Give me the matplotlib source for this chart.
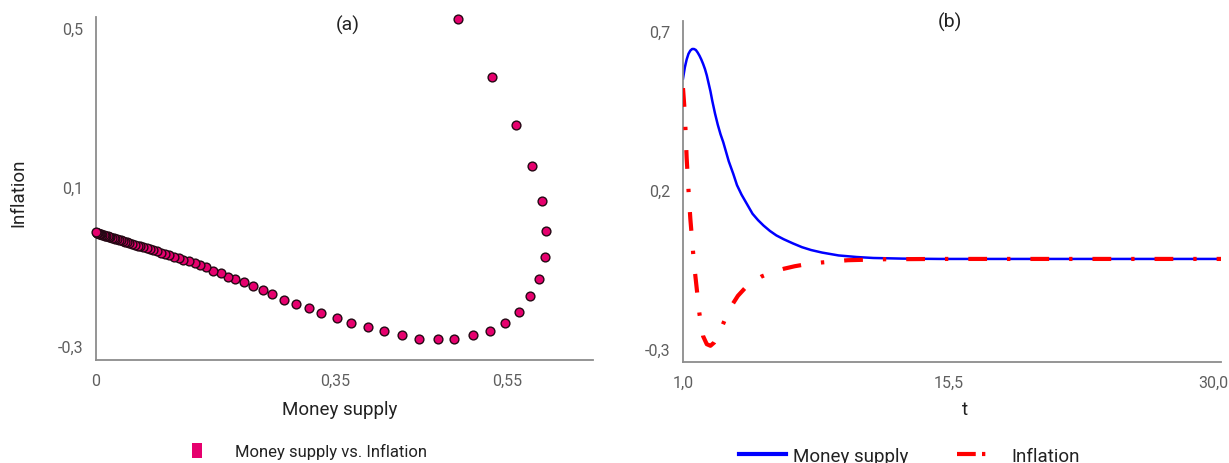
import matplotlib
matplotlib.use("Agg")
import matplotlib.pyplot as plt
from matplotlib.lines import Line2D
from matplotlib.patches import Patch

plt.rcParams["font.family"] = ["Roboto", "DejaVu Sans"]

# --- panel (a): money supply vs. inflation (phase plot) ---
money_a = [0.530, 0.580, 0.615, 0.638, 0.653, 0.659, 0.657, 0.649, 0.635, 0.619,
           0.599, 0.577, 0.552, 0.524, 0.501, 0.473, 0.448, 0.422, 0.398, 0.373,
           0.353, 0.329, 0.312, 0.293, 0.275, 0.258, 0.245, 0.230, 0.217, 0.204,
           0.193, 0.183, 0.171, 0.161, 0.152, 0.145, 0.136, 0.128, 0.121, 0.114,
           0.107, 0.101, 0.095, 0.089, 0.084, 0.079, 0.074, 0.069, 0.065, 0.061,
           0.057, 0.053, 0.049, 0.046, 0.043, 0.040, 0.037, 0.034, 0.031, 0.028,
           0.026, 0.023, 0.021, 0.019, 0.017, 0.015, 0.013, 0.011, 0.009, 0.007,
           0.006, 0.004, 0.003, 0.002, 0.001, 0.000]
infl_a = [0.523, 0.377, 0.256, 0.152, 0.064, -0.011, -0.077, -0.130, -0.175, -0.213,
          -0.241, -0.261, -0.273, -0.281, -0.283, -0.281, -0.273, -0.263, -0.253, -0.241,
          -0.230, -0.218, -0.205, -0.193, -0.183, -0.170, -0.160, -0.150, -0.140, -0.130,
          -0.125, -0.117, -0.110, -0.102, -0.097, -0.092, -0.087, -0.083, -0.079, -0.075,
          -0.071, -0.068, -0.065, -0.062, -0.059, -0.056, -0.054, -0.051, -0.049, -0.047,
          -0.045, -0.043, -0.041, -0.039, -0.037, -0.036, -0.034, -0.033, -0.031, -0.030,
          -0.029, -0.027, -0.026, -0.025, -0.024, -0.023, -0.022, -0.021, -0.020, -0.019,
          -0.018, -0.017, -0.016, -0.016, -0.015, -0.014]

# --- panel (b): time paths ---
t_money = [1.0, 1.1, 1.2, 1.3, 1.4, 1.5, 1.6, 1.7, 1.8, 1.9, 2.0, 2.1, 2.2, 2.3, 2.4,
           2.5, 2.6, 2.75, 2.9, 3.05, 3.2, 3.5, 3.75, 3.95, 4.2, 4.5, 4.8, 5.1, 5.4,
           5.75, 6.1, 6.5, 7.0, 7.5, 8.0, 8.6, 9.5, 10.5, 11.4, 13.0, 15.0, 20.0, 25.0, 30.4]
money_b = [0.55, 0.585, 0.61, 0.628, 0.638, 0.643, 0.643, 0.64, 0.632, 0.622, 0.61,
           0.596, 0.58, 0.56, 0.535, 0.51, 0.48, 0.44, 0.405, 0.375, 0.35, 0.29, 0.25,
           0.215, 0.185, 0.155, 0.125, 0.105, 0.088, 0.071, 0.057, 0.045, 0.032, 0.020,
           0.011, 0.003, -0.006, -0.011, -0.014, -0.016, -0.017, -0.017, -0.017, -0.017]
t_infl = [1.0, 1.1, 1.2, 1.3, 1.4, 1.5, 1.6, 1.75, 1.9, 2.1, 2.3, 2.5, 2.7, 2.9, 3.15,
          3.4, 3.7, 4.0, 4.4, 4.8, 5.3, 5.9, 6.5, 7.1, 7.8, 8.6, 10.0, 12.0, 15.0, 20.0,
          25.0, 30.4]
infl_b = [0.52, 0.44, 0.30, 0.20, 0.11, 0.04, -0.03, -0.11, -0.19, -0.26, -0.285, -0.29,
          -0.28, -0.26, -0.227, -0.193, -0.16, -0.133, -0.108, -0.09, -0.072, -0.058,
          -0.048, -0.04, -0.033, -0.028, -0.021, -0.018, -0.017, -0.017, -0.017, -0.017]

xticks_a = ["0", "0,35", "0,55"]
yticks_a = ["-0,3", "0,1", "0,5"]
xticks_b = ["1,0", "15,5", "30,0"]
yticks_b = ["-0,3", "0,2", "0,7"]

W, H = 1229, 464
fig = plt.figure(figsize=(W / 100, H / 100), dpi=100)

def px_axes(x0, y0, x1, y1):
    # axes rectangle from pixel corners (top-left origin)
    return fig.add_axes([x0 / W, 1 - y1 / H, (x1 - x0) / W, (y1 - y0) / H])

axis_grey = "#8c8c8c"
tick_grey = "#5f5f5f"
text_col = "#222222"

def style(ax):
    for s in ("top", "right"):
        ax.spines[s].set_visible(False)
    for s in ("left", "bottom"):
        ax.spines[s].set_color(axis_grey)
        ax.spines[s].set_linewidth(1.3)
    ax.tick_params(length=0, labelsize=11.5, labelcolor=tick_grey, pad=9)

# ---------- (a) ----------
axa = px_axes(96, 18, 593, 361)
style(axa)
axa.scatter(money_a, infl_a, s=40, color="#e6006e", edgecolors="#240814",
            linewidths=1.0, zorder=3, clip_on=False)
axa.set_xlim(0, 0.728)
axa.set_ylim(-0.335, 0.528)
axa.set_xticks([0, 0.35, 0.602], xticks_a)
axa.set_yticks([-0.3, 0.1, 0.5], yticks_a)

fig.text(348 / W, 1 - 25 / H, "(a)", ha="center", va="center", fontsize=14, color=text_col)
fig.text(340 / W, 1 - 410 / H, "Money supply", ha="center", va="center", fontsize=13.5,
         color=text_col)
fig.text(18 / W, 1 - 193 / H, "Inflation", ha="center", va="center", rotation=90,
         fontsize=13.5, color=text_col)

fig.legend(handles=[Patch(facecolor="#e6006e", edgecolor="none")],
           labels=["Money supply vs. Inflation"], loc="center left",
           bbox_to_anchor=(177 / W, 1 - 452 / H), frameon=False, fontsize=12,
           handlelength=0.6, handleheight=1.0, handletextpad=2.0,
           labelcolor=text_col)

# ---------- (b) ----------
axb = px_axes(683, 22, 1221, 363)
style(axb)
axb.plot(t_money, money_b, color="#0000ff", lw=1.8, zorder=2, label="Money supply")
axb.plot(t_infl, infl_b, color="#ff0000", lw=3, ls=(0, (4.5, 4.8, 0.8, 4.8)),
         zorder=3, label="Inflation")
axb.set_xlim(1, 30.4)
axb.set_ylim(-0.341, 0.731)
axb.set_xticks([1, 15.5, 30], xticks_b)
axb.set_yticks([-0.3, 0.2, 0.7], yticks_b)

fig.text(950 / W, 1 - 22 / H, "(b)", ha="center", va="center", fontsize=14, color=text_col)
fig.text(965 / W, 1 - 410 / H, "t", ha="center", va="center", fontsize=13.5, color=text_col)

leg_handles = [Line2D([], [], color="#0000ff", lw=3),
               Line2D([], [], color="#ff0000", lw=3, ls=(0, (4.5, 1.5, 0.8, 4.8)))]
fig.legend(handles=leg_handles, labels=["Money supply", "Inflation"], loc="center left",
           bbox_to_anchor=(722 / W, 1 - 457 / H), ncol=2, frameon=False, fontsize=13.5,
           handlelength=2.5, handletextpad=0.4, columnspacing=2.6, labelcolor=text_col)

fig.savefig("out.png", dpi=100)
